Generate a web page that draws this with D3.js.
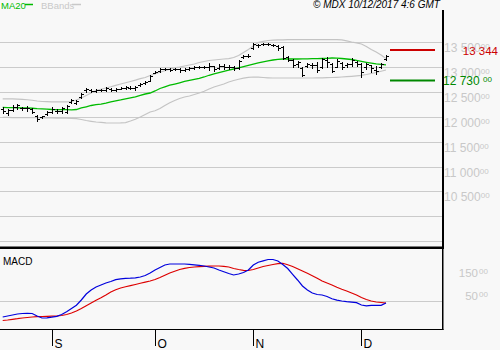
<!DOCTYPE html>
<html><head><meta charset="utf-8">
<script src="https://cdn.jsdelivr.net/npm/d3@7"></script>
<style>
body{margin:0;background:#f8f8f8}
svg{display:block}
text{font-family:Arial,"Liberation Sans",sans-serif}
</style>
</head><body><svg id="c" width="500" height="350"></svg>
<script>
// ---------- DATA ----------
const opens  = [12150,12080,12140,12200,12180,12170,12160,12020,11990,12050,12100,12120,12110,12100,12300,12280,12400,12540,12540,12530,12540,12550,12560,12550,12570,12590,12590,12580,12640,12680,12730,12890,12920,12960,12960,12960,12960,12950,12960,12990,13000,13010,13000,13020,12980,13020,13010,13000,12980,13200,13220,13380,13440,13460,13470,13450,13430,13400,13200,13140,13060,12990,13020,13040,13050,13000,13150,13060,13000,13080,13040,13060,13100,13060,13000,13040,12950,13000,13160];
const highs  = [12199,12158,12239,12259,12199,12219,12179,12038,12018,12118,12199,12158,12199,12239,12360,12340,12480,12581,12561,12561,12561,12601,12581,12581,12601,12621,12621,12621,12682,12722,12843,12923,12983,12983,12983,12983,12983,12983,13003,13024,13024,13024,13084,13024,13064,13064,13044,13024,13144,13245,13265,13486,13466,13486,13486,13466,13446,13426,13225,13164,13124,13003,13084,13084,13104,13184,13205,13084,13164,13104,13084,13184,13124,13084,13084,13044,13024,13084,13245];
const lows   = [12078,12038,12118,12158,12138,12118,12078,11917,11977,12038,12078,12078,12078,12078,12279,12259,12380,12501,12501,12501,12521,12521,12521,12521,12561,12561,12561,12541,12621,12661,12722,12883,12903,12943,12923,12943,12903,12923,12943,12963,12983,12983,12943,12923,12963,12963,12963,12943,12963,13184,13205,13366,13406,13446,13446,13426,13346,13164,13124,13003,13003,12822,13003,12983,12903,12983,13003,12903,13003,12963,13003,13024,13024,12802,12963,12903,12863,12983,13144];
const closes = [12110,12140,12200,12230,12170,12180,12100,11950,12010,12100,12160,12120,12170,12220,12340,12320,12460,12560,12530,12540,12545,12580,12550,12560,12590,12600,12590,12600,12660,12700,12830,12910,12960,12970,12950,12970,12940,12960,12990,13000,13010,13000,13030,12960,13030,13010,13000,12980,13130,13220,13230,13460,13450,13470,13460,13450,13380,13190,13150,13050,13100,12850,13060,13050,12950,13160,13100,12930,13120,13000,13060,13150,13070,12900,13060,12990,12920,13060,13230];

const ma20 = [12189,12187,12185,12183,12181,12179,12173,12165,12161,12155,12148,12146,12144,12144,12142,12148,12179,12203,12229,12245,12255,12277,12303,12323,12340,12360,12380,12400,12430,12460,12480,12521,12571,12605,12637,12661,12686,12712,12732,12754,12776,12802,12837,12867,12891,12917,12939,12963,12987,13011,13036,13060,13084,13106,13128,13144,13158,13164,13164,13164,13164,13166,13168,13170,13170,13174,13178,13184,13180,13174,13164,13154,13138,13118,13098,13080,13064,13054,13044];
const bbUpper = [12360,12360,12360,12356,12350,12344,12334,12319,12309,12305,12303,12303,12303,12303,12309,12340,12380,12430,12480,12531,12555,12581,12605,12635,12661,12686,12712,12738,12768,12792,12832,12863,12897,12927,12959,12987,13003,13024,13044,13064,13094,13114,13134,13144,13154,13164,13172,13195,13235,13295,13355,13426,13496,13520,13536,13542,13547,13547,13553,13553,13553,13553,13553,13553,13553,13553,13553,13553,13553,13547,13527,13506,13490,13466,13416,13355,13305,13245,13174];
const bbLower = [11988,11988,11986,11986,11984,11984,11982,11982,11980,11978,11978,11976,11974,11972,11970,11966,11947,11927,11911,11897,11889,11881,11877,11877,11879,11885,11917,11953,11998,12048,12098,12122,12169,12229,12283,12330,12370,12400,12420,12450,12480,12515,12561,12601,12631,12661,12702,12732,12756,12778,12796,12802,12798,12792,12786,12782,12782,12782,12782,12782,12782,12782,12782,12782,12784,12786,12788,12792,12796,12802,12808,12816,12826,12836,12852,12872,12893,12917,12943];

const macdLine = [-69.5,-65,-60.6,-56.2,-54,-53.1,-54,-65,-73.9,-73,-70.4,-66.4,-58.4,-46,-31.9,-17.3,5.8,32.3,50,63.3,72.1,81,87.6,95.6,99.6,101.3,102.2,104,107.5,114.2,125.2,138.5,149.6,160.6,165,165,165,165,163.7,161.5,159.3,156.2,151.8,147.4,138.5,130.5,123,116.4,120.8,127.4,138.5,160.6,172.6,179.2,185,185,178.3,162.8,145.1,119.5,94.3,67.7,50,36.7,30.1,27.9,21.2,11.1,4.9,1.3,-1.8,-4,-6.2,-16.4,-19.9,-17.7,-17.7,-17.7,-7.5];
const signalLine = [-85,-82.7,-79.6,-77,-73.9,-71.7,-69.5,-68.1,-67.3,-66.4,-65.9,-65,-62.8,-58.4,-51.8,-42.9,-31.9,-19.5,-7.5,4.4,15.5,27.9,41.2,51.3,58.9,64.2,69,74.3,79.7,84.5,89.8,96.5,105.3,115,125.2,132.8,140.7,146,149.6,151.8,153.5,154.9,155.8,156.2,156.2,154.9,151.8,145.1,140.7,137.2,136.3,140.7,147.4,154,158.4,162.8,166.4,168.2,161.5,154,144.3,134.1,123.9,113.3,101.8,89.8,81,72.1,62,53.1,45.6,36.7,27.9,16.8,8,1.3,-3.1,-5.3,-8.4];

const monthLabels = ["S","O","N","D"];
const monthStartIdx = [10,31,51,73];
const priceGrid = [9500,10000,10500,11000,11500,12000,12500,13000,13500];
const priceLabels = [10500,11000,11500,12000,12500,13000,13500];
const macdGrid = [0];
const macdLabels = [50,150];
const resistance = 13344;
const support = 12730;
const title = "© MDX 10/12/2017 4:6 GMT";

// ---------- CHART ----------
const svg = d3.select("#c");
svg.append("rect").attr("width",500).attr("height",350).attr("fill","#f8f8f8");

const n = closes.length;
const idx = d3.range(n);
const x = d3.scaleLinear().domain([0, n-1]).range([2.7, 386]);
const y = d3.scaleLinear().domain([10000, 13500]).range([216.3, 42.3]);
const ym = d3.scaleLinear().domain([0, 150]).range([301.3, 267.4]);
const fmt = d3.formatLocale({decimal:".",thousands:" ",grouping:[3],currency:["",""]}).format(",");
const px = v => Math.round(v) + 0.5;
const GRID = "#cbcbcb", LAB = "#c8c8c8";

// price grid
svg.append("g").selectAll("line").data(priceGrid).join("line")
  .attr("x1",0).attr("x2",442).attr("y1",d=>px(y(d))).attr("y2",d=>px(y(d)))
  .attr("stroke",GRID).attr("stroke-width",1).attr("shape-rendering","crispEdges");

// price labels
const pl = svg.append("g").selectAll("text").data(priceLabels).join("text")
  .attr("x",444).attr("y",d=>Math.round(y(d))+10).attr("fill",LAB).attr("font-size",12);
pl.append("tspan").text(d=>fmt(d));
pl.append("tspan").attr("font-size",8).attr("dy",-3.5).text("00");

// bands
const lineGen = arr => d3.line().x(i=>x(i)).y(i=>y(arr[i]));
svg.append("path").attr("d",lineGen(bbUpper)(idx)).attr("fill","none").attr("stroke","#c4c4c4").attr("stroke-width",1.2);
svg.append("path").attr("d",lineGen(bbLower)(idx)).attr("fill","none").attr("stroke","#c4c4c4").attr("stroke-width",1.2);
// MA20
svg.append("path").attr("d",lineGen(ma20)(idx)).attr("fill","none").attr("stroke","#00bb00").attr("stroke-width",1.3);

// OHLC bars
svg.append("g").selectAll("path").data(idx).join("path")
  .attr("d",i=>{
    const cx = px(x(i)), h=Math.round(y(highs[i])), l=Math.round(y(lows[i]))+1,
      o=px(y(opens[i])), c=px(y(closes[i]));
    return `M${cx},${h}V${l}M${cx-2.5},${o}H${cx}M${cx},${c}H${cx+2.5}`;
  })
  .attr("stroke","#000").attr("stroke-width",1).attr("fill","none").attr("shape-rendering","crispEdges");

// resistance / support
svg.append("line").attr("x1",390).attr("x2",435).attr("y1",y(resistance)).attr("y2",y(resistance))
  .attr("stroke","#cc0000").attr("stroke-width",2);
svg.append("line").attr("x1",390).attr("x2",435).attr("y1",y(support)).attr("y2",y(support))
  .attr("stroke","#008800").attr("stroke-width",2);
svg.append("text").attr("x",498).attr("y",y(resistance)+5).attr("text-anchor","end")
  .attr("fill","#cc0000").attr("font-size",11.5).text(fmt(resistance));
const sl = svg.append("text").attr("x",443).attr("y",y(support)+4.5).attr("fill","#008800").attr("font-size",12);
sl.append("tspan").text(fmt(support)+" ");
sl.append("tspan").attr("font-size",8).attr("dy",-3.5).text("00");

// frame main
svg.append("rect").attr("x",442).attr("y",10).attr("width",2).attr("height",238).attr("fill","#000");
svg.append("rect").attr("x",0).attr("y",246.5).attr("width",444).attr("height",2.5).attr("fill","#000");

// header
svg.append("text").attr("x",1).attr("y",8.5).attr("font-size",9.5).attr("fill","#00bb00").text("MA20");
svg.append("line").attr("x1",25).attr("x2",33).attr("y1",4.5).attr("y2",4.5).attr("stroke","#00bb00").attr("stroke-width",1.5);
svg.append("text").attr("x",41).attr("y",8.5).attr("font-size",9.5).attr("fill","#c8c8c8").text("BBands");
svg.append("line").attr("x1",72).attr("x2",81).attr("y1",4.5).attr("y2",4.5).attr("stroke","#c8c8c8").attr("stroke-width",1.5);
svg.append("text").attr("x",313).attr("y",8).attr("font-size",10).attr("font-style","italic").attr("fill","#000").text(title);

// MACD panel
svg.append("g").selectAll("line").data(macdGrid).join("line")
  .attr("x1",0).attr("x2",442).attr("y1",d=>px(ym(d))).attr("y2",d=>px(ym(d)))
  .attr("stroke",GRID).attr("shape-rendering","crispEdges");
const ml = svg.append("g").selectAll("text").data(macdLabels).join("text")
  .attr("x",478).attr("y",d=>Math.round(ym(d))+10).attr("fill",LAB).attr("font-size",11.5).attr("text-anchor","end");
ml.append("tspan").text(d=>d);
const ms = svg.append("g").selectAll("text").data(macdLabels).join("text")
  .attr("x",479).attr("y",d=>Math.round(ym(d))+6.5).attr("fill",LAB).attr("font-size",8).text("00");

const mLine = arr => d3.line().x(i=>x(i)).y(i=>ym(arr[i]));
svg.append("path").attr("d",mLine(signalLine)(idx)).attr("fill","none").attr("stroke","#dd0000").attr("stroke-width",1.2);
svg.append("path").attr("d",mLine(macdLine)(idx)).attr("fill","none").attr("stroke","#0000dd").attr("stroke-width",1.2);
svg.append("text").attr("x",3).attr("y",264.5).attr("font-size",10).attr("fill","#000").text("MACD");

svg.append("rect").attr("x",442).attr("y",247).attr("width",1.5).attr("height",83).attr("fill","#000");
svg.append("rect").attr("x",0).attr("y",329).attr("width",443.5).attr("height",1).attr("fill","#000");

// month axis
const ax = svg.append("g");
ax.selectAll("line").data(monthStartIdx).join("line")
  .attr("x1",i=>px(x(i))).attr("x2",i=>px(x(i))).attr("y1",329).attr("y2",346)
  .attr("stroke","#000").attr("shape-rendering","crispEdges");
ax.selectAll("text").data(monthStartIdx).join("text")
  .attr("x",i=>px(x(i))+2).attr("y",347.5).attr("font-size",12).attr("fill","#000")
  .text((d,k)=>monthLabels[k]);
</script>
</body></html>
